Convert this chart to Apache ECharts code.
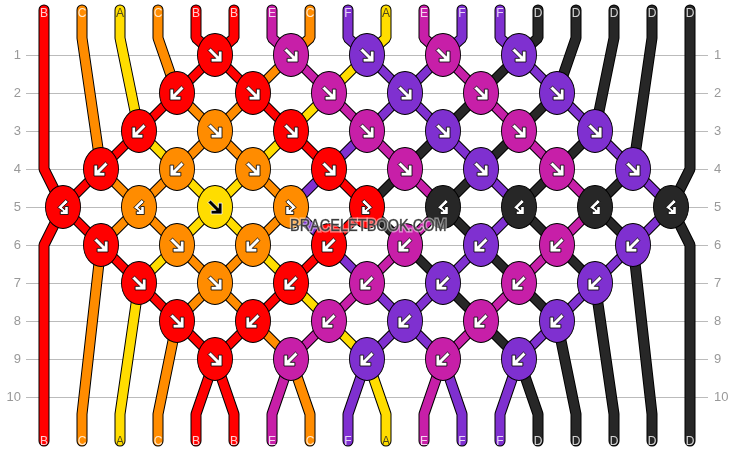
<!DOCTYPE html>
<html>
<head>
<meta charset="utf-8">
<style>
  html, body { margin: 0; padding: 0; background: #fff; }
  #main { width: 734px; height: 452px; }
</style>
<script src="https://cdn.jsdelivr.net/npm/echarts@6/dist/echarts.min.js"></script>
</head>
<body>
<div id="main"></div>
<script>
// strand letters as they enter at the top
const strands = ['B', 'C', 'A', 'C', 'B', 'B', 'E', 'C', 'F', 'A', 'E', 'F', 'F', 'D', 'D', 'D', 'D', 'D'];
const rowLabels = [1, 2, 3, 4, 5, 6, 7, 8, 9, 10];

// knots per row: R = forward, L = backward, HL / HR = hooks keeping the strands in place
const row1 = ['R', 'R', 'R', 'R', 'R'];
const row2 = ['L', 'R', 'R', 'R', 'R', 'R'];
const row3 = ['L', 'R', 'R', 'R', 'R', 'R', 'R'];
const row4 = ['L', 'L', 'R', 'R', 'R', 'R', 'R', 'R'];
const row5 = ['HL', 'HL', 'R', 'HR', 'HR', 'HL', 'HL', 'HL', 'HL'];
const row6 = ['R', 'R', 'L', 'L', 'L', 'L', 'L', 'L'];
const row7 = ['R', 'R', 'L', 'L', 'L', 'L', 'L'];
const row8 = ['R', 'L', 'L', 'L', 'L', 'L'];
const row9 = ['R', 'L', 'L', 'L', 'L'];
const knotRows = [row1, row2, row3, row4, row5, row6, row7, row8, row9];

const colors = { B: '#ff0000', C: '#ff8c00', A: '#ffdd00', E: '#c71fa8', F: '#7f30d0', D: '#272727' };

const topEnd = -0.184, topBend = 0.553, bottomBend = 10.45, bottomEnd = 11.158;
const topText = -0.08, bottomText = 11.184;

const forward = 'path://M0 2.5L2.5 0L10 7.5L10 3L13.5 3L13.5 13.5L3 13.5L3 10L7.5 10Z';
const hookL = 'path://M8 0L10.5 2.5L4.5 8L7 10.2L7 7L10.5 7L10.5 15L2.5 15L2.5 11.7L5 11.7L0 8Z';
const hookR = 'path://M2.5 0L0 2.5L6 8L3.5 10.2L3.5 7L0 7L0 15L8 15L8 11.7L5.5 11.7L10.5 8Z';
const arrowShape = {
  R: { symbol: forward, symbolRotate: 0, symbolSize: 14 },
  L: { symbol: forward, symbolRotate: -90, symbolSize: 14 },
  HL: { symbol: hookL, symbolRotate: 0, symbolSize: [10.5, 15] },
  HR: { symbol: hookR, symbolRotate: 0, symbolSize: [10.5, 15] }
};

// walk the strands through the knots
let order = strands.map((s, i) => i);
const woven = strands.map(() => []);
const knots = [];
knotRows.forEach((row, r) => {
  const rowNo = r + 1;
  const start = Math.abs(5 - rowNo);
  row.forEach((type, k) => {
    const lp = start + k * 2;
    const a = order[lp], b = order[lp + 1];
    const col = lp + 0.5;
    woven[a].push([col, rowNo]);
    woven[b].push([col, rowNo]);
    const top = type === 'R' || type === 'HR' ? a : b;
    knots.push({ col, rowNo, type, letter: strands[top] });
    if (type === 'R' || type === 'L') {
      order[lp] = b;
      order[lp + 1] = a;
    }
  });
});

const isEdge = (p) => p === 0 || p === strands.length - 1;
const series = [];
function strandLine(path, color, width, z) {
  series.push({
    type: 'line', data: path, symbol: 'none', clip: false, silent: true, z,
    lineStyle: { color, width, cap: 'round', join: 'bevel' }
  });
}
function addStrand(path, s, outer, inner) {
  strandLine(path, '#000', outer, 2);
  strandLine(path, colors[strands[s]], inner, 3);
}
strands.forEach((letter, s) => {
  const knotPath = woven[s];
  addStrand([[s, topEnd], [s, isEdge(s) ? 4 : topBend], knotPath[0]], s, 11, 9);
  addStrand(knotPath, s, 10, 8);
});
order.forEach((s, p) => {
  const knotPath = woven[s];
  addStrand([knotPath[knotPath.length - 1], [p, isEdge(p) ? 6 : bottomBend], [p, bottomEnd]], s, 11, 9);
});

// end labels
const labelData = [];
strands.forEach((s, i) => labelData.push({ value: [i, topText], name: s }));
order.forEach((s, p) => labelData.push({ value: [p, bottomText], name: strands[s] }));
labelData.forEach((d) => { if (d.name === 'A') d.label = { color: '#222' }; });
series.push({
  type: 'scatter', data: labelData, symbolSize: 0, clip: false, silent: true, z: 4,
  label: {
    show: true, position: 'inside', fontFamily: 'Liberation Sans', fontSize: 12,
    formatter: (p) => p.name,
    color: '#fff'
  },
  labelLayout: { hideOverlap: false }
});

// knot bodies
series.push({
  type: 'scatter', clip: false, silent: true, z: 5, symbol: 'circle', symbolSize: [35, 43],
  data: knots.map((k) => ({
    value: [k.col, k.rowNo],
    itemStyle: { color: colors[k.letter], borderColor: '#000', borderWidth: 1, opacity: 1 }
  }))
});

// arrows, the yellow knot gets a black one
series.push({
  type: 'scatter', clip: false, silent: true, z: 6,
  data: knots.map((k) => {
    const dark = k.letter === 'A';
    return Object.assign({
      value: [k.col, k.rowNo],
      itemStyle: { color: dark ? '#000' : '#fff', borderColor: dark ? '#fff' : '#000', borderWidth: 0.8, opacity: 1 }
    }, arrowShape[k.type]);
  })
});

const yLabels = {
  show: true, color: '#999', fontSize: 13, fontFamily: 'Liberation Sans',
  showMinLabel: false, showMaxLabel: false,
  formatter: (v) => (rowLabels.indexOf(v) >= 0 ? String(v) : '')
};

const watermark = 'BRACELETBOOK.COM';

const chart = echarts.init(document.getElementById('main'), null, { renderer: 'canvas' });
chart.setOption({
  animation: false,
  backgroundColor: '#fff',
  grid: { left: 26, right: 26, top: 17, bottom: 17 },
  xAxis: { type: 'value', min: -18 / 38, max: 17 + 18 / 38, show: false },
  yAxis: [
    {
      type: 'value', inverse: true, min: 0, max: 11, interval: 1, position: 'left',
      axisLine: { show: false }, axisTick: { show: false },
      axisLabel: Object.assign({ margin: 5 }, yLabels),
      splitLine: { show: true, showMinLine: false, showMaxLine: false, lineStyle: { color: '#bbb', width: 1 } }
    },
    {
      type: 'value', inverse: true, min: 0, max: 11, interval: 1, position: 'right',
      axisLine: { show: false }, axisTick: { show: false },
      axisLabel: Object.assign({ margin: 6 }, yLabels),
      splitLine: { show: false }
    }
  ],
  graphic: [
    {
      type: 'text', x: 290, y: 218, scaleX: 0.88, z: 100, silent: true,
      style: {
        text: watermark, fontFamily: 'Liberation Sans', fontSize: 16.5,
        fill: 'rgba(255,255,255,0.5)', stroke: 'rgba(255,255,255,0.5)', lineWidth: 3
      }
    },
    {
      type: 'text', x: 290, y: 218, scaleX: 0.88, z: 101, silent: true,
      style: {
        text: watermark, fontFamily: 'Liberation Sans', fontSize: 16.5,
        fill: '#3c3c3c', stroke: 'rgba(60,60,60,0.5)', lineWidth: 0.7
      }
    }
  ],
  series
});
</script>
</body>
</html>
